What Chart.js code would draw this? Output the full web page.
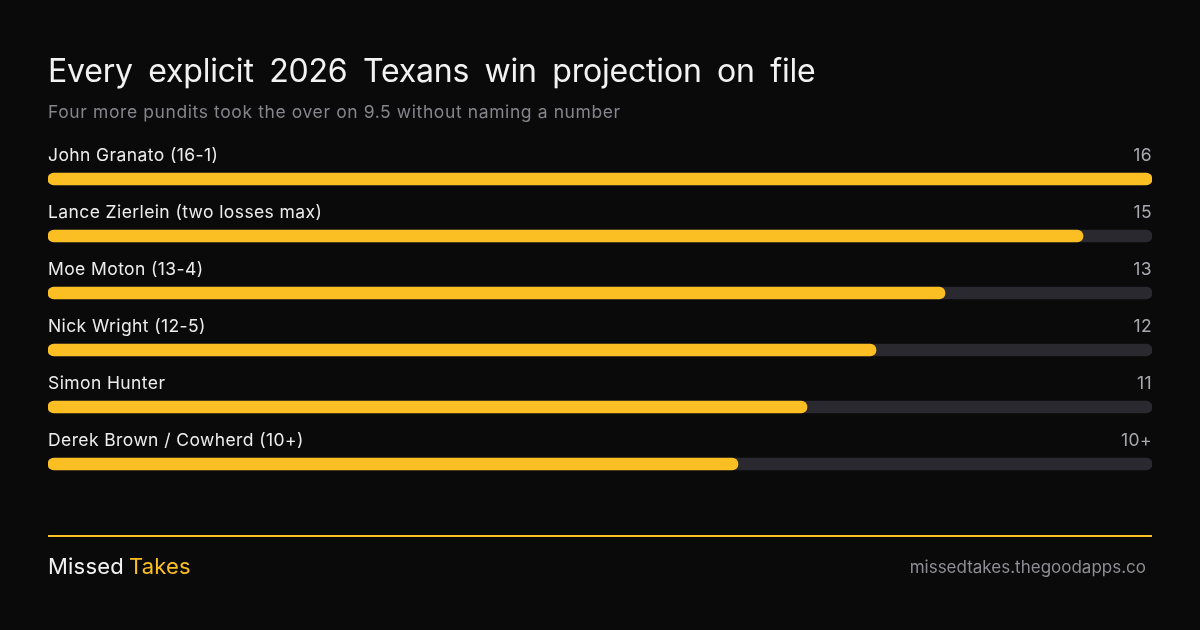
<!DOCTYPE html>
<html>
<head>
<meta charset="utf-8">
<script src="https://cdn.jsdelivr.net/npm/chart.js@4"></script>
<style>
  html, body { margin: 0; padding: 0; background: #0a0a0a; }
  body { width: 1200px; height: 630px; position: relative; overflow: hidden; font-family: Inter, "Noto Sans", sans-serif; }
  #chart { position: absolute; left: 0; top: 0; }
  .title { position: absolute; left: 48px; top: 51px; font-size: 32px; color: #f2f2f2; letter-spacing: -0.2px; word-spacing: 6.7px; white-space: nowrap; }
  .subtitle { position: absolute; left: 48px; top: 101px; font-size: 17.5px; color: #85858c; letter-spacing: 0.6px; white-space: nowrap; }
  .rule { position: absolute; left: 48px; top: 535px; width: 1104px; height: 2px; background: #fbbf24; }
  .brand { position: absolute; left: 48px; top: 553px; font-size: 22px; color: #f2f2f2; letter-spacing: 0.2px; }
  .brand span { color: #fbbf24; margin-left: 5px; }
  .url { position: absolute; right: 54px; top: 557px; font-size: 17px; color: #8e8e94; }
</style>
</head>
<body>
<canvas id="chart" width="1200" height="630"></canvas>
<div class="title">Every explicit 2026 Texans win projection on file</div>
<div class="subtitle">Four more pundits took the over on 9.5 without naming a number</div>
<div class="rule"></div>
<div class="brand">Missed<span>Takes</span></div>
<div class="url">missedtakes.thegoodapps.co</div>
<script>
const pundits = ['John Granato (16-1)', 'Lance Zierlein (two losses max)', 'Moe Moton (13-4)', 'Nick Wright (12-5)', 'Simon Hunter', 'Derek Brown / Cowherd (10+)'];
const wins = [16, 15, 13, 12, 11, 10];
const winLabels = ['16', '15', '13', '12', '11', '10+'];
const maxWins = 16;
const track = pundits.map(() => maxWins);

// names on the left, numbers on the right, just above each bar
const rowLabels = {
    id: 'rowLabels',
    afterDatasetsDraw(chart) {
        const ctx = chart.ctx;
        const area = chart.chartArea;
        const meta = chart.getDatasetMeta(1);
        ctx.save();
        ctx.font = '17.5px Inter, "Noto Sans", sans-serif';
        ctx.letterSpacing = '0.4px';
        ctx.textBaseline = 'middle';
        meta.data.forEach(function (bar, i) {
            ctx.fillStyle = '#ededed';
            ctx.textAlign = 'left';
            ctx.fillText(pundits[i], area.left, bar.y - 23);
            ctx.fillStyle = '#a8a8ae';
            ctx.textAlign = 'right';
            ctx.fillText(winLabels[i], area.right, bar.y - 23);
        });
        ctx.restore();
    }
};

new Chart(document.getElementById('chart'), {
    type: 'bar',
    data: {
        labels: pundits,
        datasets: [
            {
                data: wins,
                backgroundColor: '#fbbf24',
                barThickness: 12,
                borderRadius: 6,
                borderSkipped: false,
                order: 0
            },
            {
                data: track,
                backgroundColor: '#2b2930',
                barThickness: 12,
                borderRadius: 6,
                borderSkipped: false,
                order: 1
            }
        ]
    },
    options: {
        indexAxis: 'y',
        responsive: false,
        animation: false,
        layout: { padding: { left: 48, right: 48, top: 150.5, bottom: 137.5 } },
        scales: {
            x: { display: false, min: 0, max: maxWins },
            y: { display: false, stacked: true }
        },
        datasets: { bar: { grouped: false } },
        plugins: {
            legend: { display: false },
            tooltip: { enabled: false }
        }
    },
    plugins: [rowLabels]
});
</script>
</body>
</html>
